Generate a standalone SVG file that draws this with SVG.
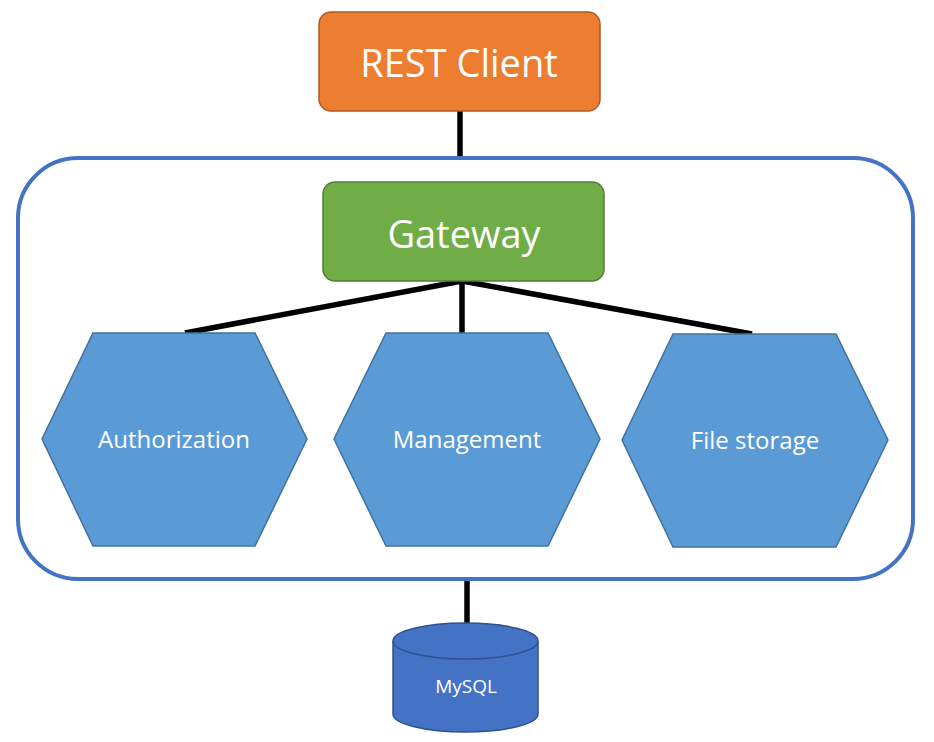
<svg xmlns="http://www.w3.org/2000/svg" width="934" height="742" viewBox="0 0 934 742">
<style>
.lbl{font-family:"Open Sans","Liberation Sans",sans-serif;fill:#fff;text-anchor:middle}
.hex{fill:#5B9BD5;stroke:#41719C;stroke-width:1.5}
.conn{stroke:#000;stroke-width:5.5;fill:none}
</style>
<rect width="934" height="742" fill="#fff"/>
<g id="connectors">
<line class="conn" x1="460" y1="110" x2="460" y2="158"/>
<line class="conn" x1="462" y1="281" x2="185" y2="333"/>
<line class="conn" x1="462" y1="281" x2="462" y2="333"/>
<line class="conn" x1="462" y1="281" x2="752" y2="334"/>
<line class="conn" x1="467" y1="579" x2="467" y2="624"/>
</g>
<g id="container">
<rect x="18" y="158" width="895" height="421" rx="60" ry="60" fill="none" stroke="#4472C4" stroke-width="4"/>
</g>
<g id="rest-client">
<rect x="319" y="12" width="281" height="99" rx="12" ry="12" fill="#ED7D31" stroke="#AE5A21" stroke-width="1.5"/>
<text class="lbl" x="459" y="77" font-size="38">REST Client</text>
</g>
<g id="gateway">
<rect x="323" y="182" width="281" height="99" rx="12" ry="12" fill="#70AD47" stroke="#507E32" stroke-width="1.5"/>
<text class="lbl" x="464" y="248" font-size="38">Gateway</text>
</g>
<g id="authorization">
<polygon class="hex" points="93,333 255,333 307,439 255,546 93,546 42,439"/>
<text class="lbl" x="174" y="448" font-size="24">Authorization</text>
</g>
<g id="management">
<polygon class="hex" points="386,333 548,333 600,439 548,546 386,546 334,439"/>
<text class="lbl" x="467" y="448" font-size="24">Management</text>
</g>
<g id="file-storage">
<polygon class="hex" points="673,334 836,334 888,440 836,547 673,547 622,440"/>
<text class="lbl" x="755" y="449" font-size="24">File storage</text>
</g>
<g id="mysql">
<path d="M393,641 L393,714 A72.5,18 0 0 0 538,714 L538,641" fill="#4472C4" stroke="#2F528F" stroke-width="1.5"/>
<ellipse cx="465.5" cy="641" rx="72.5" ry="18" fill="#4472C4" stroke="#2F528F" stroke-width="1.5"/>
<text class="lbl" x="466" y="693" font-size="19">MySQL</text>
</g>
</svg>
